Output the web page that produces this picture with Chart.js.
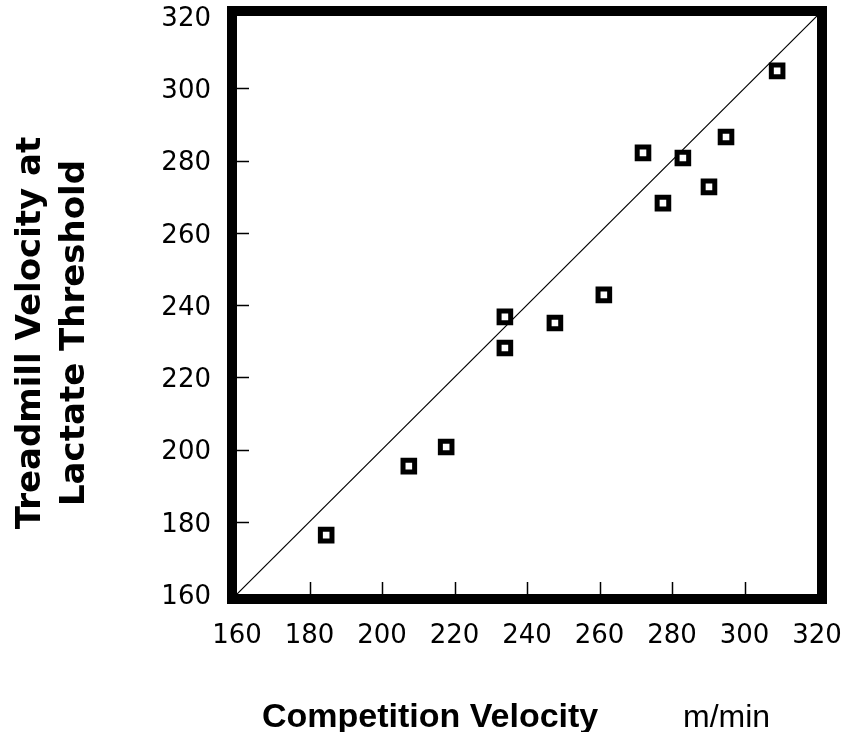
<!DOCTYPE html>
<html>
<head>
<meta charset="utf-8">
<script src="https://cdn.jsdelivr.net/npm/chart.js@4"></script>
<style>
  html, body { margin: 0; padding: 0; background: #fff; }
  #wrap { width: 847px; height: 732px; }
</style>
</head>
<body>
<div id="wrap"><canvas id="lactateChart" width="847" height="732"></canvas></div>
<script>
// Competition velocity (m/min) vs treadmill velocity at lactate threshold
const competitionVelocity = [184.6, 207.4, 217.7, 233.9, 233.9, 247.7, 261.2, 272.0, 277.5, 283.0, 290.2, 294.9, 309.0];
const treadmillVelocity   = [176.3, 195.4, 200.7, 236.7, 228.1, 235.0, 242.8, 282.1, 268.2, 280.7, 272.7, 286.5, 304.8];

// line of identity, drawn from 160 to 320 on both axes
const identityLine = [160, 320];

const axisTicks = [160, 180, 200, 220, 240, 260, 280, 300, 320];
const axisMin = 160;
const axisMax = 320;

const yTitleLines = ['Treadmill Velocity at', 'Lactate Threshold'];
const xTitle = 'Competition Velocity';
const xUnit = 'm/min';

/**
 * Thick frame round the plot, inward tick marks and the axis titles
 */
const framePlugin = {
    id: 'frame',
    afterDatasetsDraw(chart) {
        const { ctx, chartArea: a, scales } = chart;
        ctx.save();
        ctx.strokeStyle = '#000';
        ctx.fillStyle = '#000';

        // inner ticks
        ctx.lineWidth = 1.5;
        ctx.beginPath();
        axisTicks.forEach(v => {
            if (v <= axisMin || v >= axisMax) return;
            const px = Math.round(scales.x.getPixelForValue(v)) + 0.5;
            ctx.moveTo(px, a.bottom);
            ctx.lineTo(px, a.bottom - 12);
            const py = Math.round(scales.y.getPixelForValue(v)) + 0.5;
            ctx.moveTo(a.left, py);
            ctx.lineTo(a.left + 12, py);
        });
        ctx.stroke();

        // frame
        ctx.lineWidth = 10;
        ctx.strokeRect(a.left - 5, a.top - 5, a.width + 10, a.height + 10);

        // y title, two rotated lines
        ctx.font = 'bold 34px "DejaVu Sans"';
        ctx.textAlign = 'center';
        ctx.textBaseline = 'middle';
        const midY = 333;
        yTitleLines.forEach((line, i) => {
            ctx.save();
            ctx.translate(31 + i * 44, midY);
            ctx.rotate(-Math.PI / 2);
            ctx.fillText(line, 0, 0);
            ctx.restore();
        });

        // x title and unit
        ctx.textAlign = 'left';
        ctx.textBaseline = 'alphabetic';
        ctx.font = 'bold 34px "Liberation Sans"';
        ctx.fillText(xTitle, 262, 727);
        ctx.font = '32px "Liberation Sans"';
        ctx.fillText(xUnit, 683, 727);

        ctx.restore();
    }
};

const points = competitionVelocity.map((x, i) => ({ x: x, y: treadmillVelocity[i] }));
const linePoints = identityLine.map(v => ({ x: v, y: v }));

const tickFont = { family: '"DejaVu Sans"', size: 26, weight: 'normal' };

// keep the plot box where the layout padding puts it
function noLabelPadding(s) {
    s.paddingTop = 0;
    s.paddingBottom = 0;
    s.paddingLeft = 0;
    s.paddingRight = 0;
}

const ctx = document.getElementById('lactateChart').getContext('2d');
new Chart(ctx, {
    type: 'scatter',
    data: {
        datasets: [
            {
                type: 'line',
                label: 'identity',
                data: linePoints,
                borderColor: '#000',
                borderWidth: 1.2,
                pointRadius: 0,
                fill: false,
                order: 2
            },
            {
                label: 'subjects',
                data: points,
                pointStyle: 'rect',
                pointRadius: 8.2,
                borderWidth: 5,
                borderColor: '#000',
                backgroundColor: '#fff',
                order: 1
            }
        ]
    },
    options: {
        responsive: false,
        animation: false,
        events: [],
        layout: { padding: { top: 16, right: 30, bottom: 0, left: 0 } },
        plugins: {
            legend: { display: false },
            tooltip: { enabled: false },
            title: { display: false }
        },
        scales: {
            x: {
                type: 'linear',
                min: axisMin,
                max: axisMax,
                afterBuildTicks: s => { s.ticks = axisTicks.map(v => ({ value: v })); },
                afterFit: s => { s.height = 138; noLabelPadding(s); },
                grid: { display: false, drawTicks: false },
                border: { display: false },
                ticks: { color: '#000', font: tickFont, padding: 27, maxRotation: 0 }
            },
            y: {
                type: 'linear',
                min: axisMin,
                max: axisMax,
                afterBuildTicks: s => { s.ticks = axisTicks.map(v => ({ value: v })); },
                afterFit: s => { s.width = 237; noLabelPadding(s); },
                grid: { display: false, drawTicks: false },
                border: { display: false },
                ticks: { color: '#000', font: tickFont, padding: 26, labelOffset: 3 }
            }
        }
    },
    plugins: [framePlugin]
});
</script>
</body>
</html>
